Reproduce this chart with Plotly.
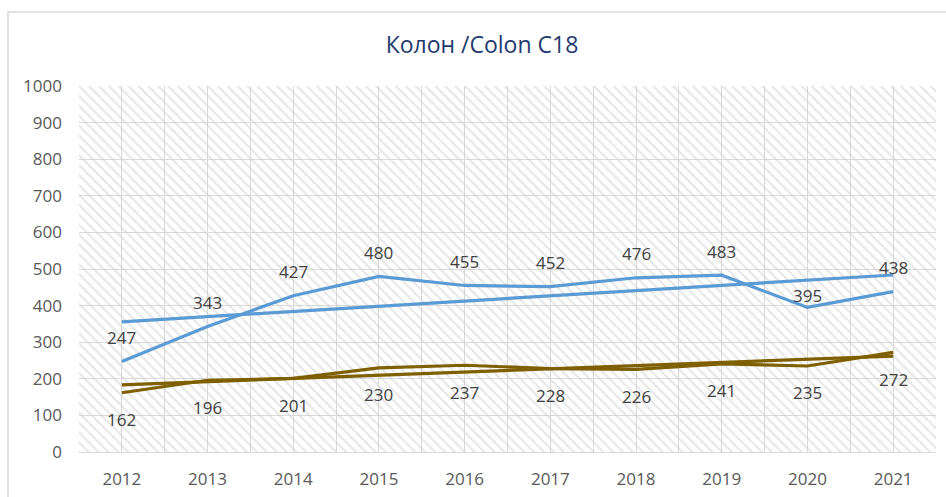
import numpy as np
import plotly.graph_objects as go

years = [2012, 2013, 2014, 2015, 2016, 2017, 2018, 2019, 2020, 2021]
series_a = [247, 343, 427, 480, 455, 452, 476, 483, 395, 438]
series_b = [162, 196, 201, 230, 237, 228, 226, 241, 235, 272]
y_ticks = [0, 100, 200, 300, 400, 500, 600, 700, 800, 900, 1000]
title_text = "Колон /Colon C18"

BLUE = "#5B9BD5"
BROWN = "#7F6000"
FONT = "Open Sans"

x = np.array(years, dtype=float)

def trend(vals):
    k, b = np.polyfit(x, np.array(vals, dtype=float), 1)
    return k * x + b

fig = go.Figure()

# hatched plot-area background
x_lo, x_hi = years[0] - 0.5, years[-1] + 0.5
fig.add_trace(go.Scatter(
    x=[x_lo, x_hi, x_hi, x_lo, x_lo], y=[0, 0, y_ticks[-1], y_ticks[-1], 0],
    mode="lines", line=dict(width=0), fill="toself",
    fillcolor="rgba(0,0,0,0)",
    fillpattern=dict(shape="\\", size=7, solidity=0.3, fgcolor="#cfcfcf",
                     bgcolor="rgba(0,0,0,0)"),
    hoverinfo="skip", showlegend=False))

fig.add_trace(go.Scatter(x=years, y=trend(series_a), mode="lines",
                         line=dict(color=BLUE, width=3.2), showlegend=False))
fig.add_trace(go.Scatter(x=years, y=trend(series_b), mode="lines",
                         line=dict(color=BROWN, width=3.2), showlegend=False))
fig.add_trace(go.Scatter(x=years, y=series_a, mode="lines",
                         line=dict(color=BLUE, width=3.2), showlegend=False))
fig.add_trace(go.Scatter(x=years, y=series_b, mode="lines",
                         line=dict(color=BROWN, width=3.2), showlegend=False))

label_font = dict(family=FONT, size=17, color="#404040")
for yr, v in zip(years, series_a):
    shift = 12 if v == 395 else 24
    fig.add_annotation(x=yr, y=v, text=str(v), showarrow=False,
                       yshift=shift, font=label_font)
for yr, v in zip(years, series_b):
    fig.add_annotation(x=yr, y=v, text=str(v), showarrow=False,
                       yshift=-27, font=label_font)

# chart border (outer frame)
L, R, T, B = 79, 10, 86, 45
W, H = 946, 497
pw, ph = W - L - R, H - T - B
fig.add_shape(type="rect", xref="paper", yref="paper",
              x0=(8 - L) / pw, x1=(W + 5 - L) / pw,
              y0=-(H + 5 - (H - B)) / ph, y1=(H - B - 12) / ph,
              line=dict(color="#d9d9d9", width=1.5), fillcolor="rgba(0,0,0,0)",
              layer="below")

fig.update_layout(
    width=W, height=H,
    margin=dict(l=L, r=R, t=T, b=B, autoexpand=False),
    paper_bgcolor="white", plot_bgcolor="white",
    title=dict(text=title_text, x=482 / W, xanchor="center", y=1 - 45 / H,
               yanchor="middle", font=dict(family=FONT, size=23, color="#1F3A6E")),
    xaxis=dict(range=[x_lo, x_hi], tickvals=years, ticktext=[str(y) for y in years],
               showgrid=True, gridcolor="#d9d9d9", gridwidth=1,
               minor=dict(dtick=0.5, tick0=x_lo, showgrid=True, gridcolor="#d9d9d9", gridwidth=1),
               zeroline=False, showline=True, linecolor="#d9d9d9", linewidth=1,
               ticks="", ticklabelstandoff=12, automargin=False,
               tickfont=dict(family=FONT, size=17, color="#595959"), fixedrange=True),
    yaxis=dict(range=[0, 1000], tickvals=y_ticks, showgrid=True, gridcolor="#d9d9d9",
               gridwidth=1, zeroline=False, showline=False, ticks="",
               ticklabelstandoff=16, automargin=False,
               tickfont=dict(family=FONT, size=17, color="#595959"), fixedrange=True),
)

fig.write_html("out.html", config={"displayModeBar": False},
               post_script="document.body.style.margin='0';document.body.style.overflow='hidden';")
